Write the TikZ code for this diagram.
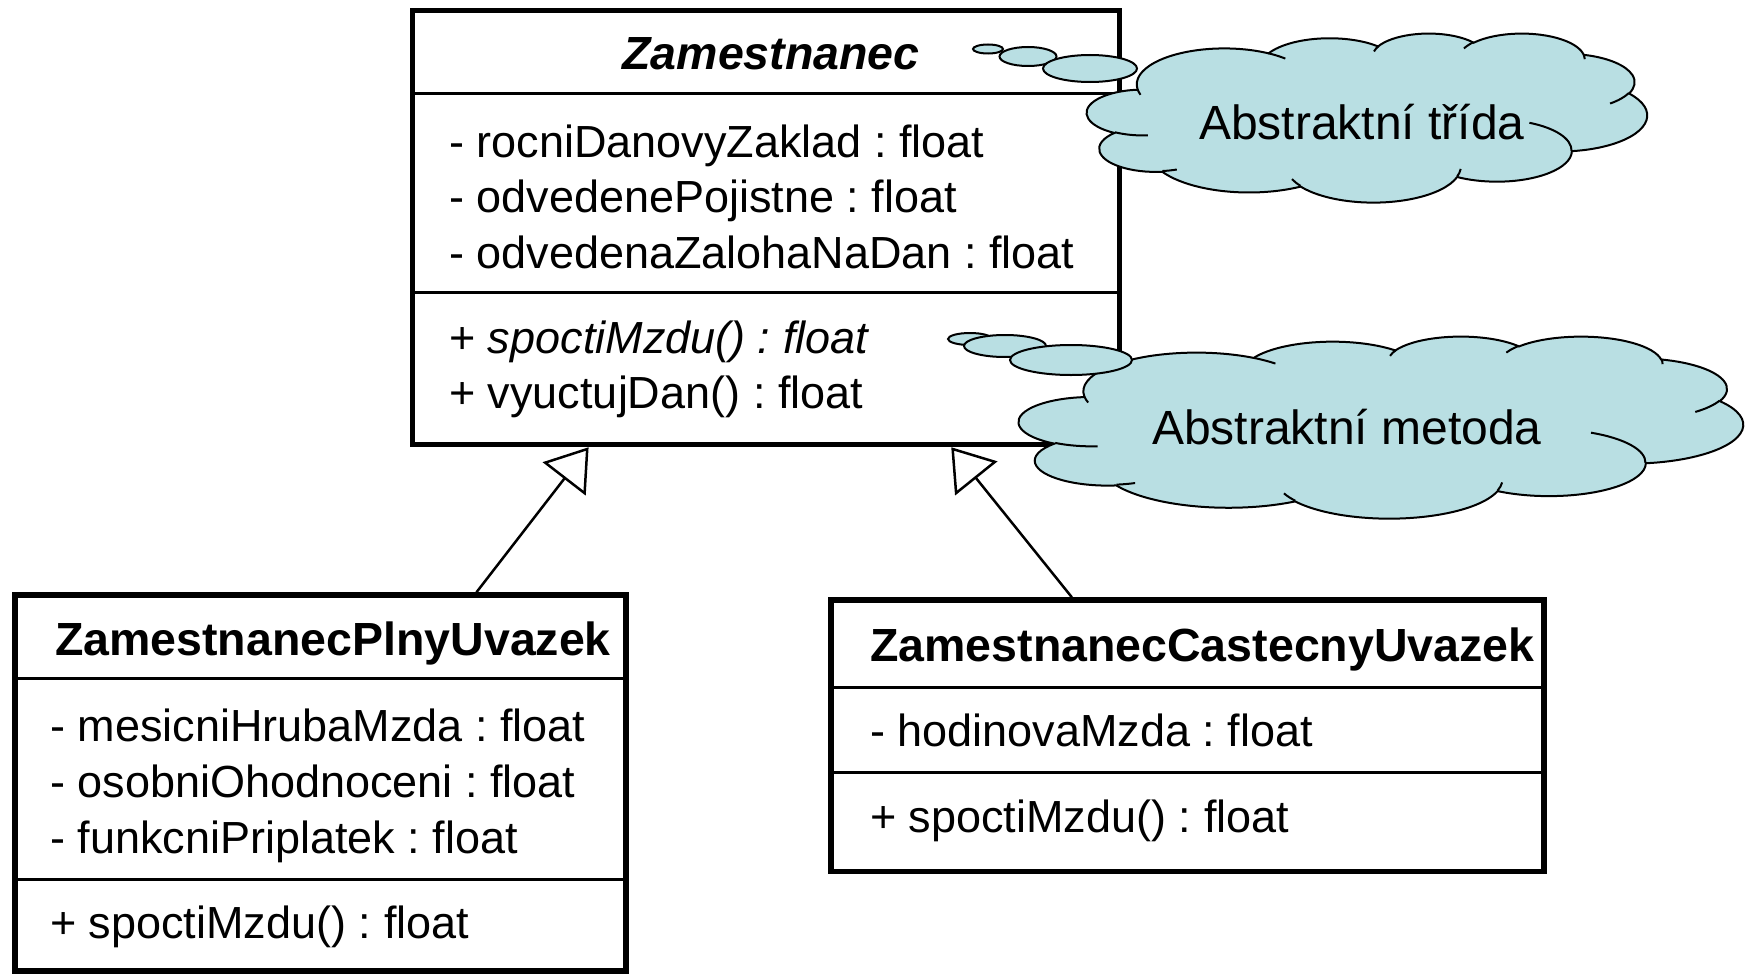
\documentclass[tikz,border=0pt]{standalone}
\usepackage{fontspec}
\setmainfont{Liberation Sans}
\usetikzlibrary{arrows.meta, calc}

% elliptic arc given like an office shape: radii, start and sweep (visual angles)
\newcommand\cloudarc[4]{arc[x radius=#1, y radius=#2,
    start angle={atan2(#1*sin(#3), #2*cos(#3))},
    delta angle={mod(atan2(#1*sin(#3+#4), #2*cos(#3+#4)) - atan2(#1*sin(#3), #2*cos(#3)) + 720, 360)}]}

% cloud outline in a 432 x 432 box
\newcommand\cloudbody{(39,143.7)
    \cloudarc{67.53}{91.90}{-190.487}{123.781}
    \cloudarc{53.33}{72.67}{-144.102}{89.945}
    \cloudarc{43.65}{59.45}{-145.808}{99.723}
    \cloudarc{48.57}{65.95}{-130.986}{117.242}
    \cloudarc{53.33}{72.73}{-78.709}{109.027}
    \cloudarc{67.75}{92.20}{-46.267}{130.269}
    \cloudarc{57.85}{78.67}{0.625}{114.033}
    \cloudarc{67.52}{92.15}{22.452}{115.173}
    \cloudarc{77.20}{105.43}{66.243}{75.711}
    \cloudarc{43.60}{59.18}{-274.942}{146.736}
    \cloudarc{43.45}{59.45}{-246.829}{152.519} -- cycle}

% the little inner strokes of the cloud
\newcommand\cloudcreases{
    (46.93,261.77) \cloudarc{43.45}{59.45}{86.742}{26.430}
    (69.28,348.99) \cloudarc{43.60}{59.18}{73.610}{11.447}
    (164.78,390.90) \cloudarc{67.52}{92.15}{137.624}{14.081}
    (288.27,347.51) \cloudarc{67.52}{92.15}{6.453}{15.998}
    (341.29,229.54) \cloudarc{57.85}{78.67}{-70.292}{70.917}
    (417.98,153.54) \cloudarc{53.33}{72.73}{30.318}{27.752}
    (383.24,54.26) \cloudarc{48.57}{65.95}{-13.744}{14.859}
    (290.78,39.52) \cloudarc{48.57}{65.95}{-149.181}{18.195}
    (221.41,47.20) \cloudarc{43.65}{59.45}{-163.494}{17.686}
    (140.00,51.92) \cloudarc{67.53}{91.90}{-66.707}{12.319}
    (41.27,157.89) \cloudarc{67.53}{91.90}{157.654}{11.858}}

\begin{document}
\frenchspacing
\begin{tikzpicture}[x=1pt, y=-1pt,
    classbox/.style={draw=black, line width=5.5pt, fill=white, inner sep=0pt},
    member/.style={inner sep=0pt, anchor=base west, font=\fontsize{45}{54}\selectfont},
    classname/.style={inner sep=0pt, anchor=base west, font=\fontsize{46.5}{56}\selectfont\bfseries},
    abstractname/.style={inner sep=0pt, anchor=base, font=\fontsize{46.5}{56}\selectfont\bfseries\itshape},
    sepline/.style={line width=3pt},
    inherit/.style={line width=2.5pt, -{Triangle[open, length=40pt, width=54pt]}},
    thought/.style={draw=black, line width=2pt, fill=cloudblue},
    crease/.style={draw=black, line width=2pt},
    notetext/.style={inner sep=0pt, anchor=base west, font=\fontsize{48}{58}\selectfont}]

   %my colors
\definecolor{cloudblue}{RGB}{185,223,227}

    \useasboundingbox (0,0) rectangle (1754,974);

    % Abstract class
    \node[classbox, minimum width=707, minimum height=434] (zam) at (766,227.5) {};
    \draw[sepline] (412.5,93) -- (1119.5,93);
    \draw[sepline] (412.5,292) -- (1119.5,292);
    \node[abstractname] (zamT) at (771,70) {Zamestnanec};
    \node[member] (zamA1) at (449,157) {- rocniDanovyZaklad : float};
    \node[member] (zamA2) at (449,212) {- odvedenePojistne : float};
    \node[member] (zamA3) at (449,268) {- odvedenaZalohaNaDan : float};
    \node[member] (zamM1) at (449,353) {+ \textit{spoctiMzdu() : float}};
    \node[member] (zamM2) at (449,408) {+ vyuctujDan() : float};

    % Full time
    \node[classbox, minimum width=611, minimum height=376] (plny) at (320.5,783) {};
    \draw[sepline] (15,678) -- (626,678);
    \draw[sepline] (15,879) -- (626,879);
    \node[classname] (plnyT) at (55,655) {ZamestnanecPlnyUvazek};
    \node[member] (plnyA1) at (50,741) {- mesicniHrubaMzda : float};
    \node[member] (plnyA2) at (50,797) {- osobniOhodnoceni : float};
    \node[member] (plnyA3) at (50,853) {- funkcniPriplatek : float};
    \node[member] (plnyM1) at (50,938) {+ spoctiMzdu() : float};

    % Part time
    \node[classbox, minimum width=713, minimum height=271.5] (cast) at (1187.5,735.75) {};
    \draw[sepline] (831,687) -- (1544,687);
    \draw[sepline] (831,772) -- (1544,772);
    \node[classname] (castT) at (870,661) {ZamestnanecCastecnyUvazek};
    \node[member] (castA1) at (870,746) {- hodinovaMzda : float};
    \node[member] (castM1) at (870,832) {+ spoctiMzdu() : float};

    % Generalization
    \draw[inherit] ($(plny.north west)!0.753!(plny.north east)$) -- ($(zam.south west)!0.251!(zam.south east)$);
    \draw[inherit] ($(cast.north west)!0.339!(cast.north east)$) -- ($(zam.south west)!0.760!(zam.south east)$);

    % Callouts
    \begin{scope}[shift={(1087,33)}, xscale=560/432, yscale=169/432]
        \filldraw[thought] \cloudbody;
        \draw[crease] \cloudcreases;
    \end{scope}
    \filldraw[thought] (988,49) ellipse (15 and 4.5);
    \filldraw[thought] (1028,56.5) ellipse (28.5 and 9.5);
    \filldraw[thought] (1090,68.5) ellipse (47 and 13.5);
    \node[notetext] (noteA) at (1199,139) {Abstraktní třída};

    \begin{scope}[shift={(1019,336)}, xscale=724/432, yscale=182/432]
        \filldraw[thought] \cloudbody;
        \draw[crease] \cloudcreases;
    \end{scope}
    \filldraw[thought] (970,339) ellipse (22 and 6);
    \filldraw[thought] (1005,346) ellipse (41 and 11);
    \filldraw[thought] (1071,360) ellipse (61 and 15);
    \node[notetext] (noteB) at (1152,444) {Abstraktní metoda};

\end{tikzpicture}
\end{document}
